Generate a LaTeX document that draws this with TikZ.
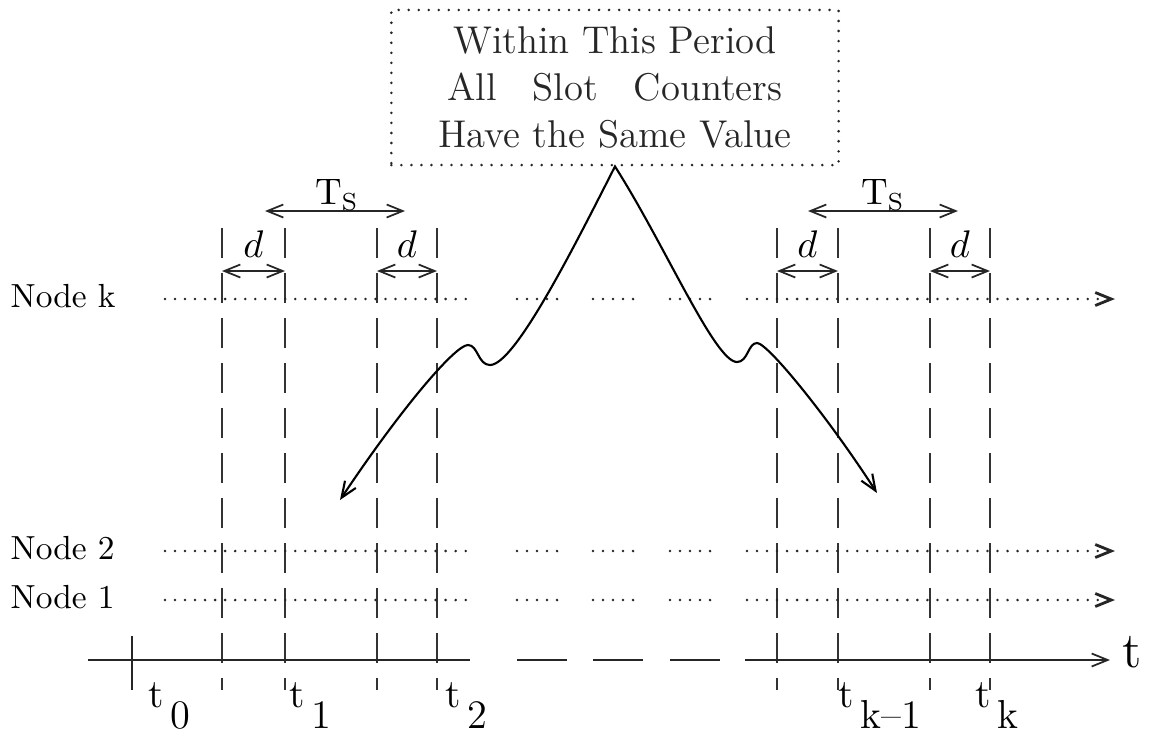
\documentclass[tikz,border=0pt]{standalone}
\usepackage{amsmath}
\usetikzlibrary{arrows.meta}
\tikzset{
  slotline/.style={black!80, line width=0.5pt, dash pattern=on 8.5pt off 4.3pt},
  dotline/.style ={black!85, line width=0.8pt, line cap=round, dash pattern=on 0pt off 2.85pt},
  axisline/.style={black!85, line width=0.5pt},
  dimarrow/.style={<->, black!85, line width=0.5pt},
  flow/.style    ={<->, black, line width=0.6pt},
  periodbox/.style={draw, dotline, minimum width=4.47cm, minimum height=1.55cm,
                    align=center, inner sep=0pt, font=\fontsize{11}{13.3}\selectfont},
  rowlabel/.style={anchor=west, inner sep=0pt, font=\fontsize{9.5}{11}\selectfont},
  tlabel/.style  ={anchor=base west, inner sep=0pt, font=\fontsize{11.5}{13}\selectfont},
  dlabel/.style  ={inner sep=0pt, font=\fontsize{10.5}{12}\selectfont},
}
\newcommand{\tstep}[1]{t\,\raisebox{-6pt}{#1}}

\begin{document}
\begin{tikzpicture}[x=0.01cm, y=-0.01cm, >={Straight Barb[length=1.6mm,width=1.3mm]}]
\useasboundingbox (0,0) rectangle (1150,735);
\node[periodbox] (period) at (615,87.5)
  {Within This Period\\All\hspace{0.6em} Slot\hspace{0.6em} Counters\\Have the Same Value};
\node[rowlabel] (nodek) at (10,296) {Node k};
\node[rowlabel] (node2) at (10,548) {Node 2};
\node[rowlabel] (node1) at (10,597) {Node 1};
\foreach \x in {222,285,377,437,777,838,930,990}
  \draw[slotline] (\x,228) -- (\x,690);
\draw[axisline] (132,636) -- (132,690);
\foreach \y in {299,551,600} {
  \draw[dotline] (165,\y) -- (475,\y);
  \foreach \a/\b in {517/567,593/643,670/720}
    \draw[dotline] (\a,\y) -- (\b,\y);
  \draw[dotline,->] (747,\y) -- (1115,\y);
}
\draw[axisline] (88,660) -- (470,660);
\foreach \a/\b in {517/567,593/643,670/720}
  \draw[axisline] (\a,660) -- (\b,660);
\draw[axisline,->] (745,660) -- (1110,660);
\node[tlabel, font=\Large] (taxis) at (1122,667) {t};
\foreach \x/\s in {148/0,289/1,445/2,838/k--1,975/k}
  \node[tlabel] at (\x,707) {\tstep{\s}};
\foreach \a/\b in {222/285,377/437,777/838,930/990} {
  \draw[dimarrow] (\a,271) -- (\b,271);
  \node[dlabel] at ({(\a+\b)/2},244) {$d$};
}
\draw[dimarrow] (265,211) -- (405,211);
\draw[dimarrow] (808,211) -- (958,211);
\node[dlabel] (tsl) at (337,195) {T$_{\mathrm{S}}$};
\node[dlabel] (tsr) at (883,195) {T$_{\mathrm{S}}$};
\coordinate (tipL) at (340,500);  \coordinate (bumpL) at (468,345); \coordinate (dipL) at (490,365);
\coordinate (dipR) at (737,362);  \coordinate (bumpR) at (757,343); \coordinate (tipR) at (877,493);
\draw[flow] (tipL) .. controls (400,410) and (455,345) .. (bumpL)
  .. controls (478,345) and (478,365) .. (dipL)
  .. controls (515,365) and (575,245) .. (period.south)
  .. controls (665,245) and (715,362) .. (dipR)
  .. controls (748,362) and (748,343) .. (bumpR)
  .. controls (768,343) and (830,420) .. (tipR);
\end{tikzpicture}
\end{document}
